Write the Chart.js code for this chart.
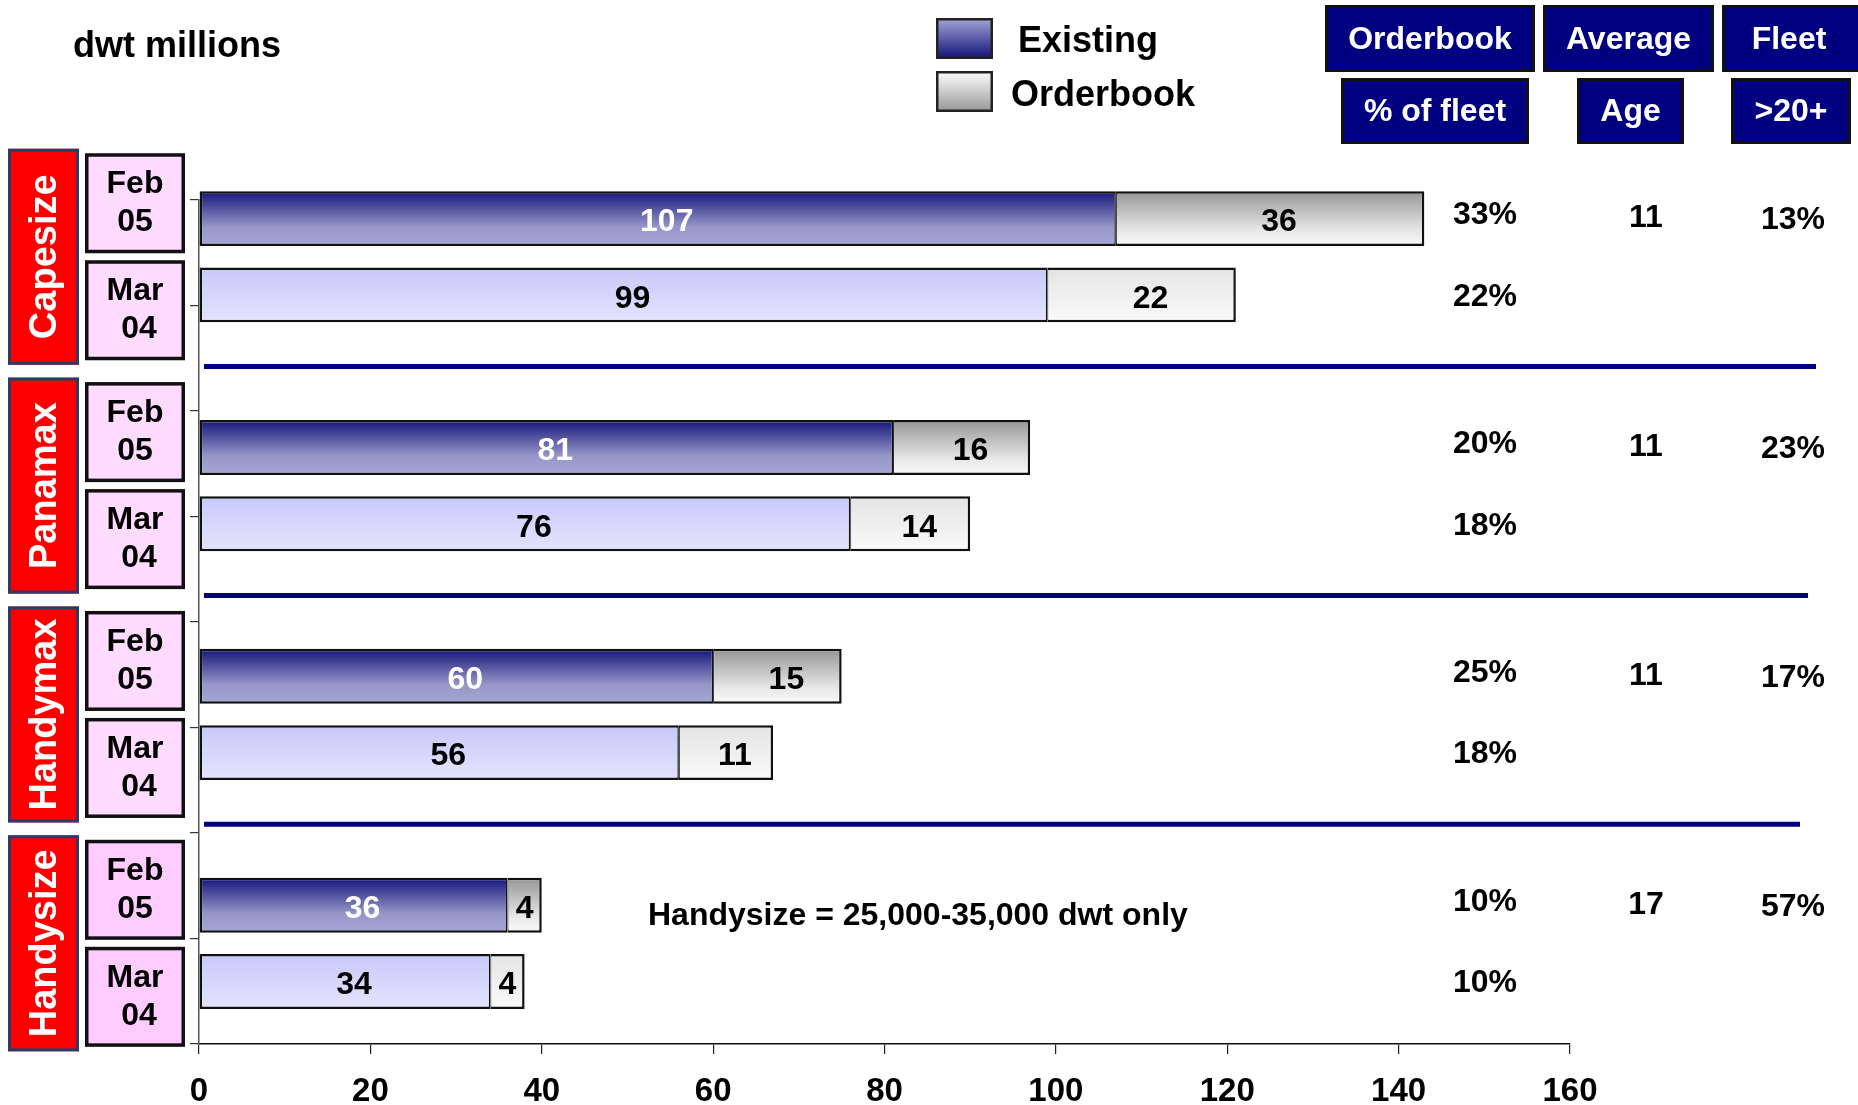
<!DOCTYPE html>
<html>
<head>
<meta charset="utf-8">
<title>Dry bulk fleet and orderbook</title>
<script src="https://cdn.jsdelivr.net/npm/chart.js@4.4.1/dist/chart.umd.min.js"></script>
<style>
  html, body { margin: 0; padding: 0; background: #ffffff; }
  #wrap { position: relative; width: 1858px; height: 1105px; }
</style>
</head>
<body>
<div id="wrap"><canvas id="fleetChart"></canvas></div>
<script>
// ---- data (dwt millions) ----
const shipClasses = ['Capesize', 'Panamax', 'Handymax', 'Handysize'];
const periods = [['Feb', '05'], ['Mar', '04']];
const existingFeb05 = [107, 81, 60, 36];
const orderbookFeb05 = [36, 16, 15, 4];
const existingMar04 = [99, 76, 56, 34];
const orderbookMar04 = [22, 14, 11, 4];
const orderbookPctFeb05 = ['33%', '20%', '25%', '10%'];
const orderbookPctMar04 = ['22%', '18%', '18%', '10%'];
const averageAge = ['11', '11', '11', '17'];
const fleetOver20 = ['13%', '23%', '17%', '57%'];
const xTicks = [0, 20, 40, 60, 80, 100, 120, 140, 160];
const headerTop = ['Orderbook', 'Average', 'Fleet'];
const headerBottom = ['% of fleet', 'Age', '>20+'];
const seriesNames = ['Existing', 'Orderbook'];
const unitLabel = 'dwt millions';
const footnote = 'Handysize = 25,000-35,000 dwt only';

// each ship class occupies three rows on the index axis: Feb 05, Mar 04, spacer
const ROWS_PER_CLASS = 3;
const rowOf = (classIdx, periodIdx) => classIdx * ROWS_PER_CLASS + periodIdx;

const existingData = [];
const orderbookData = [];
shipClasses.forEach((c, g) => {
  existingData.push({ x: existingFeb05[g], y: rowOf(g, 0) });
  existingData.push({ x: existingMar04[g], y: rowOf(g, 1) });
  orderbookData.push({ x: orderbookFeb05[g], y: rowOf(g, 0) });
  orderbookData.push({ x: orderbookMar04[g], y: rowOf(g, 1) });
});

const FONT = "'Liberation Sans', Arial, Helvetica, sans-serif";
const BAR_FRACTION = 0.72;

function barFill(ctx, kind) {
  const chart = ctx.chart;
  const ys = chart.scales && chart.scales.y;
  const raw = ctx.raw;
  const fallback = kind === 'existing' ? '#6a6ab0' : '#dddddd';
  if (!chart.chartArea || !ys || !raw) return fallback;
  const yc = ys.getPixelForValue(raw.y);
  const half = Math.abs(ys.getPixelForValue(1) - ys.getPixelForValue(0)) * BAR_FRACTION / 2;
  const g = chart.ctx.createLinearGradient(0, yc - half, 0, yc + half);
  const isFeb = raw.y % ROWS_PER_CLASS === 0;
  if (kind === 'existing') {
    if (isFeb) {
      g.addColorStop(0, '#14147a');
      g.addColorStop(0.65, '#9696c8');
      g.addColorStop(1, '#a6a6d6');
    } else {
      g.addColorStop(0, '#c8c8fa');
      g.addColorStop(1, '#e4e4fd');
    }
  } else {
    if (isFeb) {
      g.addColorStop(0, '#959595');
      g.addColorStop(0.7, '#e6e6e6');
      g.addColorStop(1, '#fafafa');
    } else {
      g.addColorStop(0, '#e4e4e4');
      g.addColorStop(1, '#fafafa');
    }
  }
  return g;
}

function drawBox(ctx, x, y, w, h, fill, stroke, lw) {
  ctx.fillStyle = fill;
  ctx.fillRect(x, y, w, h);
  ctx.lineWidth = lw;
  ctx.strokeStyle = stroke;
  ctx.strokeRect(x + lw / 2, y + lw / 2, w - lw, h - lw);
}

function text(ctx, str, x, y, size, color, align) {
  ctx.font = 'bold ' + size + 'px ' + FONT;
  ctx.fillStyle = color;
  ctx.textAlign = align || 'center';
  ctx.textBaseline = 'middle';
  ctx.fillText(str, x, y);
}

// value labels inside the bar segments
const barLabels = {
  id: 'barLabels',
  afterDatasetsDraw(chart) {
    const ctx = chart.ctx;
    ctx.save();
    chart.data.datasets.forEach((ds, di) => {
      const meta = chart.getDatasetMeta(di);
      meta.data.forEach((el, i) => {
        const raw = ds.data[i];
        const w = Math.abs(el.x - el.base);
        const dx = w > 80 ? 9 : 0;
        const isFeb = raw.y % ROWS_PER_CLASS === 0;
        const color = (di === 0 && isFeb) ? '#ffffff' : '#000000';
        text(ctx, String(raw.x), (el.x + el.base) / 2 + dx, el.y + 4, 32, color);
      });
    });
    ctx.restore();
  }
};

// class / period labels, separators, legend, header and side columns
const decorations = {
  id: 'decorations',
  afterDraw(chart) {
    const ctx = chart.ctx;
    const ys = chart.scales.y;
    const area = chart.chartArea;
    const W = chart.width;
    ctx.save();

    text(ctx, unitLabel, 73, 47, 36, '#000000', 'left');

    // legend
    const legendFills = [['#a6a6d6', '#10107a'], ['#ffffff', '#969696']];
    seriesNames.forEach((name, i) => {
      const top = 18 + i * 53;
      const g = ctx.createLinearGradient(0, top, 0, top + 41);
      g.addColorStop(0, legendFills[i][0]);
      g.addColorStop(1, legendFills[i][1]);
      drawBox(ctx, 936, top, 57, 41, g, '#222222', 2.5);
      text(ctx, name, i === 0 ? 1018 : 1011, top + 24 + i, 36, '#000000', 'left');
    });

    // header boxes
    const topBoxes = [[1325, 210], [1543, 171], [1722, 140]];
    const botBoxes = [[1341, 188], [1577, 107], [1731, 120]];
    topBoxes.forEach((b, i) => {
      drawBox(ctx, b[0], 5, b[1], 67, '#000080', '#111111', 3);
      text(ctx, headerTop[i], b[0] + b[1] / 2 - (i === 2 ? 3 : 0), 40, 32, '#ffffff');
    });
    botBoxes.forEach((b, i) => {
      drawBox(ctx, b[0], 78, b[1], 66, '#000080', '#111111', 3);
      text(ctx, headerBottom[i], b[0] + b[1] / 2, 112, 32, '#ffffff');
    });

    const colX = [1485, 1646, 1793];
    shipClasses.forEach((name, g) => {
      const yFeb = ys.getPixelForValue(rowOf(g, 0));
      const yMar = ys.getPixelForValue(rowOf(g, 1));
      const mid = (yFeb + yMar) / 2;

      // class label
      drawBox(ctx, 8, mid - 108, 71, 216, '#ff0000', '#2b3d66', 3);
      ctx.save();
      ctx.translate(44, mid);
      ctx.rotate(-Math.PI / 2);
      text(ctx, name, 0, 2, 38, '#ffffff');
      ctx.restore();

      // period labels
      const pink = g === shipClasses.length - 1 ? '#ffccff' : '#ffdcff';
      periods.forEach((p, k) => {
        const top = k === 0 ? mid - 103.5 : mid + 3.5;
        drawBox(ctx, 85, top, 100, 100, pink, '#111111', 3.5);
        text(ctx, p[0], 135, top + 31, 32, '#000000');
        text(ctx, p[1], 135 + (k === 1 ? 4 : 0), top + 69, 32, '#000000');
      });

      // right-hand columns
      text(ctx, orderbookPctFeb05[g], colX[0], yFeb - 3, 32, '#000000');
      text(ctx, orderbookPctMar04[g], colX[0], yMar + 2, 32, '#000000');
      text(ctx, averageAge[g], colX[1], yFeb, 32, '#000000');
      text(ctx, fleetOver20[g], colX[2], yFeb + 2, 32, '#000000');

      // separator below each class
      if (g < shipClasses.length - 1) {
        const ySep = ys.getPixelForValue(rowOf(g, 2) - 0.06);
        ctx.strokeStyle = '#000080';
        ctx.lineWidth = 5;
        ctx.beginPath();
        ctx.moveTo(area.left + 5, ySep);
        ctx.lineTo(W - 42 - g * 8, ySep);
        ctx.stroke();
      }
    });

    const yHs = ys.getPixelForValue(rowOf(shipClasses.length - 1, 0));
    text(ctx, footnote, 648, yHs + 11, 32, '#000000', 'left');

    ctx.restore();
  }
};

new Chart(document.getElementById('fleetChart'), {
  type: 'bar',
  data: {
    datasets: [
      {
        label: seriesNames[0],
        data: existingData,
        backgroundColor: (c) => barFill(c, 'existing'),
        borderColor: '#111111',
        borderWidth: { left: 2.5, top: 2.5, bottom: 2.5, right: 1.5 },
        borderSkipped: false,
        clip: false
      },
      {
        label: seriesNames[1],
        data: orderbookData,
        backgroundColor: (c) => barFill(c, 'orderbook'),
        borderColor: '#111111',
        borderWidth: { left: 1, top: 2.5, bottom: 2.5, right: 2.5 },
        borderSkipped: false,
        clip: false
      }
    ]
  },
  options: {
    indexAxis: 'y',
    responsive: true,
    maintainAspectRatio: false,
    animation: false,
    devicePixelRatio: 1,
    layout: { padding: { top: 200, right: 288, bottom: 0, left: 0 } },
    datasets: { bar: { categoryPercentage: 1, barPercentage: BAR_FRACTION } },
    plugins: {
      legend: { display: false },
      title: { display: false },
      tooltip: { enabled: false }
    },
    scales: {
      x: {
        type: 'linear',
        min: 0,
        max: 160,
        stacked: true,
        afterBuildTicks: (s) => { s.ticks = xTicks.map(v => ({ value: v })); },
        grid: { drawOnChartArea: false, drawTicks: true, tickLength: 10, color: '#222222', lineWidth: 1.2 },
        border: { display: true, color: '#111111', width: 1.5 },
        ticks: {
          color: '#000000',
          font: { family: FONT, size: 33, weight: 'bold' },
          padding: 18,
          maxRotation: 0,
          autoSkip: false
        },
        afterFit: (s) => { s.height = 61; }
      },
      y: {
        type: 'linear',
        reverse: true,
        stacked: true,
        offset: false,
        min: -0.244,
        max: 10.82,
        afterBuildTicks: (s) => {
          const n = 8;
          s.ticks = Array.from({ length: n + 1 }, (_, i) => ({ value: s.min + (s.max - s.min) * i / n }));
        },
        grid: { drawOnChartArea: false, drawTicks: true, tickLength: 9, color: '#333333', lineWidth: 1.2, offset: false },
        border: { display: true, color: '#555555', width: 1.5 },
        ticks: { display: false },
        afterFit: (s) => { s.width = 199; }
      }
    }
  },
  plugins: [barLabels, decorations]
});
</script>
</body>
</html>
